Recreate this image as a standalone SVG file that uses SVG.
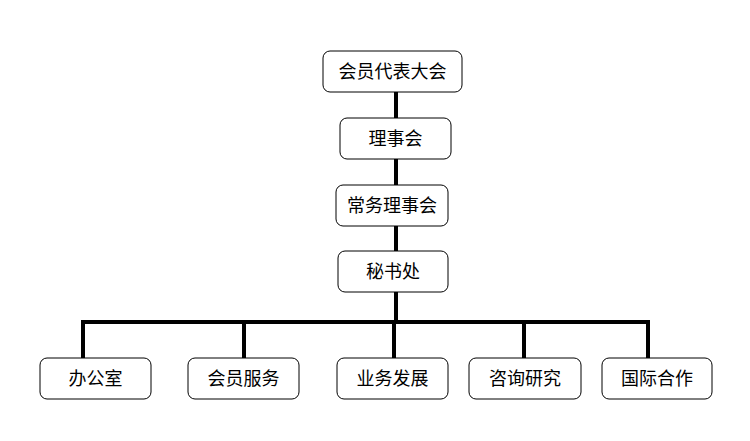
<svg xmlns="http://www.w3.org/2000/svg" width="750" height="441" viewBox="0 0 750 441">
<style>
.box{fill:#fff;stroke:#000;stroke-width:1}
.t{font-family:"Liberation Serif","Noto Sans CJK SC",serif;font-size:18px;fill:#000;text-anchor:middle;dominant-baseline:central}
.c{stroke:#000;stroke-width:4;fill:none}
</style>
<rect width="750" height="441" fill="#fff"/>
<g id="connectors">
<path class="c" d="M396 92V118M396 159V185M396 226V251M396 292V322"/>
<path class="c" d="M83 322H648M83 320V358M244 322V358M394 322V358M524 322V358M648 320V358"/>
</g>
<g id="n1"><rect class="box" x="323" y="51" width="139" height="41" rx="7"/><text class="t" x="392.5" y="71.5">会员代表大会</text></g>
<g id="n2"><rect class="box" x="340" y="118" width="111" height="41" rx="7"/><text class="t" x="395.5" y="138.5">理事会</text></g>
<g id="n3"><rect class="box" x="336" y="185" width="112" height="41" rx="7"/><text class="t" x="392" y="205.5">常务理事会</text></g>
<g id="n4"><rect class="box" x="338" y="251" width="110" height="41" rx="7"/><text class="t" x="393" y="271.5">秘书处</text></g>
<g id="n5"><rect class="box" x="40" y="358" width="111" height="41" rx="7"/><text class="t" x="95.5" y="378.5">办公室</text></g>
<g id="n6"><rect class="box" x="188" y="358" width="111" height="41" rx="7"/><text class="t" x="243.5" y="378.5">会员服务</text></g>
<g id="n7"><rect class="box" x="337" y="358" width="111" height="41" rx="7"/><text class="t" x="392.5" y="378.5">业务发展</text></g>
<g id="n8"><rect class="box" x="469" y="358" width="112" height="41" rx="7"/><text class="t" x="525" y="378.5">咨询研究</text></g>
<g id="n9"><rect class="box" x="602" y="358" width="110" height="41" rx="7"/><text class="t" x="657" y="378.5">国际合作</text></g>
</svg>
